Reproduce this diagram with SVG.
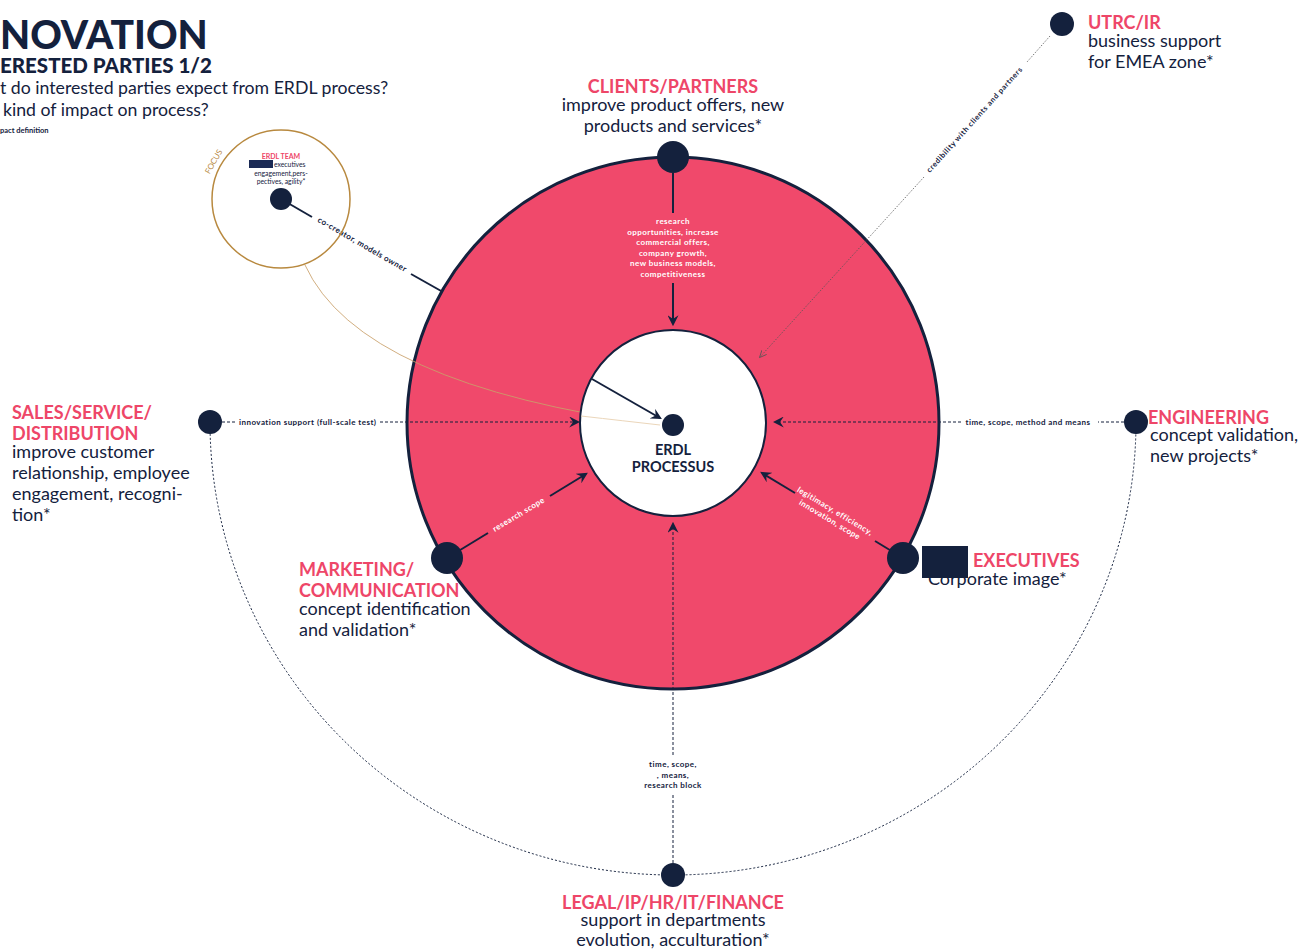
<svg xmlns="http://www.w3.org/2000/svg" width="1303" height="950" viewBox="0 0 1303 950">
<defs>
<style>
.dk{fill:#14213D}
.hd{font-family:Lato,"Noto Sans",sans-serif;font-weight:700;fill:#EE4668;font-size:18px}
.ds{font-family:Lato,"Noto Sans",sans-serif;fill:#14213D;font-size:18px}
.lb{font-family:Lato,"Noto Sans",sans-serif;font-weight:700;fill:#14213D;font-size:8px;letter-spacing:0.45px}
.wl{font-family:Lato,"Noto Sans",sans-serif;font-weight:700;fill:#FFFFFF;font-size:8px;letter-spacing:0.45px}
.solid{stroke:#14213D;stroke-width:2;fill:none}
.dash{stroke:#14213D;stroke-width:1;stroke-dasharray:3 2;fill:none}
</style>
<marker id="arr" viewBox="0 0 10 10" refX="8" refY="5" markerWidth="11" markerHeight="11" markerUnits="userSpaceOnUse" orient="auto">
<path d="M0,0 L10,5 L0,10 L3.5,5 z" fill="#14213D"/>
</marker>
<marker id="arrs" viewBox="0 0 10 10" refX="8" refY="5" markerWidth="8" markerHeight="8" markerUnits="userSpaceOnUse" orient="auto">
<path d="M0,1 L9,5 L0,9" fill="none" stroke="#555" stroke-width="1"/>
</marker>
</defs>
<rect width="1303" height="950" fill="#FFFFFF"/>

<g id="title">
<text x="0" y="49" font-family="Lato,'Noto Sans',sans-serif" font-weight="900" font-size="39" fill="#14213D">NOVATION</text>
<text x="0" y="73" font-family="Lato,'Noto Sans',sans-serif" font-weight="900" font-size="20.5" fill="#14213D">ERESTED PARTIES 1/2</text>
<text x="0" y="94" font-family="Lato,'Noto Sans',sans-serif" font-size="17.7" fill="#14213D">t do interested parties expect from ERDL process?</text>
<text x="3" y="116" font-family="Lato,'Noto Sans',sans-serif" font-size="17.7" fill="#14213D">kind of impact on process?</text>
<text x="0" y="133" font-family="Lato,'Noto Sans',sans-serif" font-weight="700" font-size="7.5" fill="#14213D">pact definition</text>
</g>

<g id="connectors-under">
<path d="M210 422 A463 453 0 0 0 1136 422" stroke="#14213D" stroke-width="1" stroke-dasharray="2 2" fill="none"/>
<line x1="281" y1="199" x2="312" y2="217" class="solid"/>
<line x1="411" y1="274" x2="450" y2="296" class="solid"/>
<text class="lb" transform="translate(362 245) rotate(30)" text-anchor="middle" dominant-baseline="middle">co-creator, models owner</text>
</g>

<g id="ring">
<circle cx="673" cy="423" r="266" fill="#F0496B" stroke="#14213D" stroke-width="3"/>
</g>
<path d="M305 265 Q360 385 660 425" stroke="#C9A06A" stroke-width="1" fill="none" opacity="0.85"/>
<g id="core">
<circle cx="673" cy="423" r="93" fill="#FFFFFF" stroke="#14213D" stroke-width="2"/>
<path d="M581 416 Q625 421 660 425" stroke="#EBD6BA" stroke-width="1" fill="none"/>
<circle cx="673" cy="425" r="11" class="dk"/>
<text x="673" y="455" text-anchor="middle" font-family="Lato,'Noto Sans',sans-serif" font-weight="700" font-size="14.5" fill="#14213D">ERDL</text>
<text x="673" y="472" text-anchor="middle" font-family="Lato,'Noto Sans',sans-serif" font-weight="700" font-size="14.5" fill="#14213D">PROCESSUS</text>
</g>

<g id="connectors">
<line x1="592" y1="379" x2="660" y2="418" class="solid" marker-end="url(#arr)"/>
<line x1="673" y1="173" x2="673" y2="213" class="solid"/>
<line x1="673" y1="283" x2="673" y2="324" class="solid" marker-end="url(#arr)"/>
<g text-anchor="middle">
<text class="wl" x="673" y="224">research</text>
<text class="wl" x="673" y="234.5">opportunities, increase</text>
<text class="wl" x="673" y="245">commercial offers,</text>
<text class="wl" x="673" y="255.5">company growth,</text>
<text class="wl" x="673" y="266">new business models,</text>
<text class="wl" x="673" y="276.5">competitiveness</text>
</g>
<line x1="222" y1="422" x2="237" y2="422" class="dash"/>
<line x1="380" y1="422" x2="578" y2="422" class="dash" marker-end="url(#arr)"/>
<text class="lb" x="239" y="424.5">innovation support (full-scale test)</text>
<line x1="1124" y1="422" x2="1098" y2="422" class="dash"/>
<line x1="961" y1="422" x2="775" y2="422" class="dash" marker-end="url(#arr)"/>
<text class="lb" x="1028" y="424.5" text-anchor="middle">time, scope, method and means</text>
<line x1="447" y1="558" x2="488" y2="533" class="solid"/>
<line x1="550" y1="496" x2="586" y2="474" class="solid" marker-end="url(#arr)"/>
<text class="wl" transform="translate(519 515) rotate(-31)" text-anchor="middle" dominant-baseline="middle">research scope</text>
<line x1="903" y1="558" x2="875" y2="541" class="solid"/>
<line x1="795" y1="493" x2="762" y2="473" class="solid" marker-end="url(#arr)"/>
<g transform="translate(832 516) rotate(31)" text-anchor="middle">
<text class="wl" x="0" y="-3">legitimacy, efficiency,</text>
<text class="wl" x="0" y="7">innovation, scope</text>
</g>
<line x1="673" y1="863" x2="673" y2="795" class="dash"/>
<line x1="673" y1="755" x2="673" y2="524" class="dash" marker-end="url(#arr)"/>
<g text-anchor="middle">
<text class="lb" x="673" y="767">time, scope,</text>
<text class="lb" x="673" y="777.5">, means,</text>
<text class="lb" x="673" y="788">research block</text>
</g>
<line x1="1050" y1="36" x2="1027" y2="62" stroke="#555" stroke-width="0.8" stroke-dasharray="1.5 1.5"/>
<line x1="924" y1="177" x2="760" y2="357" stroke="#555" stroke-width="0.8" stroke-dasharray="1.5 1.5" marker-end="url(#arrs)"/>
<text class="lb" transform="translate(975 120) rotate(-48)" text-anchor="middle" dominant-baseline="middle" style="font-size:7.5px;letter-spacing:0.6px">credibility with clients and partners</text>
</g>

<g id="focus">
<circle cx="281" cy="199" r="69" fill="none" stroke="#B8893F" stroke-width="1.5"/>
<text transform="translate(216 163) rotate(-60)" text-anchor="middle" font-family="Lato,'Noto Sans',sans-serif" font-size="8" fill="#B8893F">FOCUS</text>
<text x="281" y="159" text-anchor="middle" font-family="Lato,'Noto Sans',sans-serif" font-weight="700" font-size="7" fill="#EE4668">ERDL TEAM</text>
<rect x="249" y="160" width="24" height="8" fill="#1B2A55"/>
<text x="274" y="167" font-family="Lato,'Noto Sans',sans-serif" font-size="6.8" fill="#14213D">executives</text>
<text x="281" y="175.5" text-anchor="middle" font-family="Lato,'Noto Sans',sans-serif" font-size="6.8" fill="#14213D">engagement,pers-</text>
<text x="281" y="184" text-anchor="middle" font-family="Lato,'Noto Sans',sans-serif" font-size="6.8" fill="#14213D">pectives, agility*</text>
<circle cx="281" cy="199" r="11" class="dk"/>
</g>

<g id="clients">
<circle cx="673" cy="157" r="16" class="dk"/>
<text class="hd" x="673" y="93" text-anchor="middle">CLIENTS/PARTNERS</text>
<text class="ds" x="673" y="111" text-anchor="middle">improve product offers, new</text>
<text class="ds" x="673" y="132" text-anchor="middle">products and services*</text>
</g>

<g id="utrc">
<circle cx="1062" cy="24" r="12" class="dk"/>
<text class="hd" x="1088" y="29">UTRC/IR</text>
<text class="ds" x="1088" y="47">business support</text>
<text class="ds" x="1088" y="68">for EMEA zone*</text>
</g>

<g id="sales">
<circle cx="210" cy="422" r="12" class="dk"/>
<text class="hd" x="12" y="419">SALES/SERVICE/</text>
<text class="hd" x="12" y="440">DISTRIBUTION</text>
<text class="ds" x="12" y="458">improve customer</text>
<text class="ds" x="12" y="479">relationship, employee</text>
<text class="ds" x="12" y="500">engagement, recogni-</text>
<text class="ds" x="12" y="521">tion*</text>
</g>

<g id="engineering">
<circle cx="1136" cy="422" r="12" class="dk"/>
<text class="hd" x="1148" y="424">ENGINEERING</text>
<text class="ds" x="1150" y="441">concept validation,</text>
<text class="ds" x="1150" y="462">new projects*</text>
</g>

<g id="marketing">
<circle cx="447" cy="558" r="16" class="dk"/>
<text class="hd" x="299" y="576">MARKETING/</text>
<text class="hd" x="299" y="597">COMMUNICATION</text>
<text class="ds" x="299" y="615">concept identification</text>
<text class="ds" x="299" y="636">and validation*</text>
</g>

<g id="executives">
<circle cx="903" cy="558" r="16" class="dk"/>
<text class="hd" x="973" y="567">EXECUTIVES</text>
<text class="ds" x="928" y="585">Corporate image*</text>
<rect x="922" y="546" width="46" height="32" fill="#14213D"/>
</g>

<g id="legal">
<circle cx="673" cy="875" r="12" class="dk"/>
<text class="hd" x="673" y="909" text-anchor="middle">LEGAL/IP/HR/IT/FINANCE</text>
<text class="ds" x="673" y="926" text-anchor="middle">support in departments</text>
<text class="ds" x="673" y="946" text-anchor="middle">evolution, acculturation*</text>
</g>
</svg>
